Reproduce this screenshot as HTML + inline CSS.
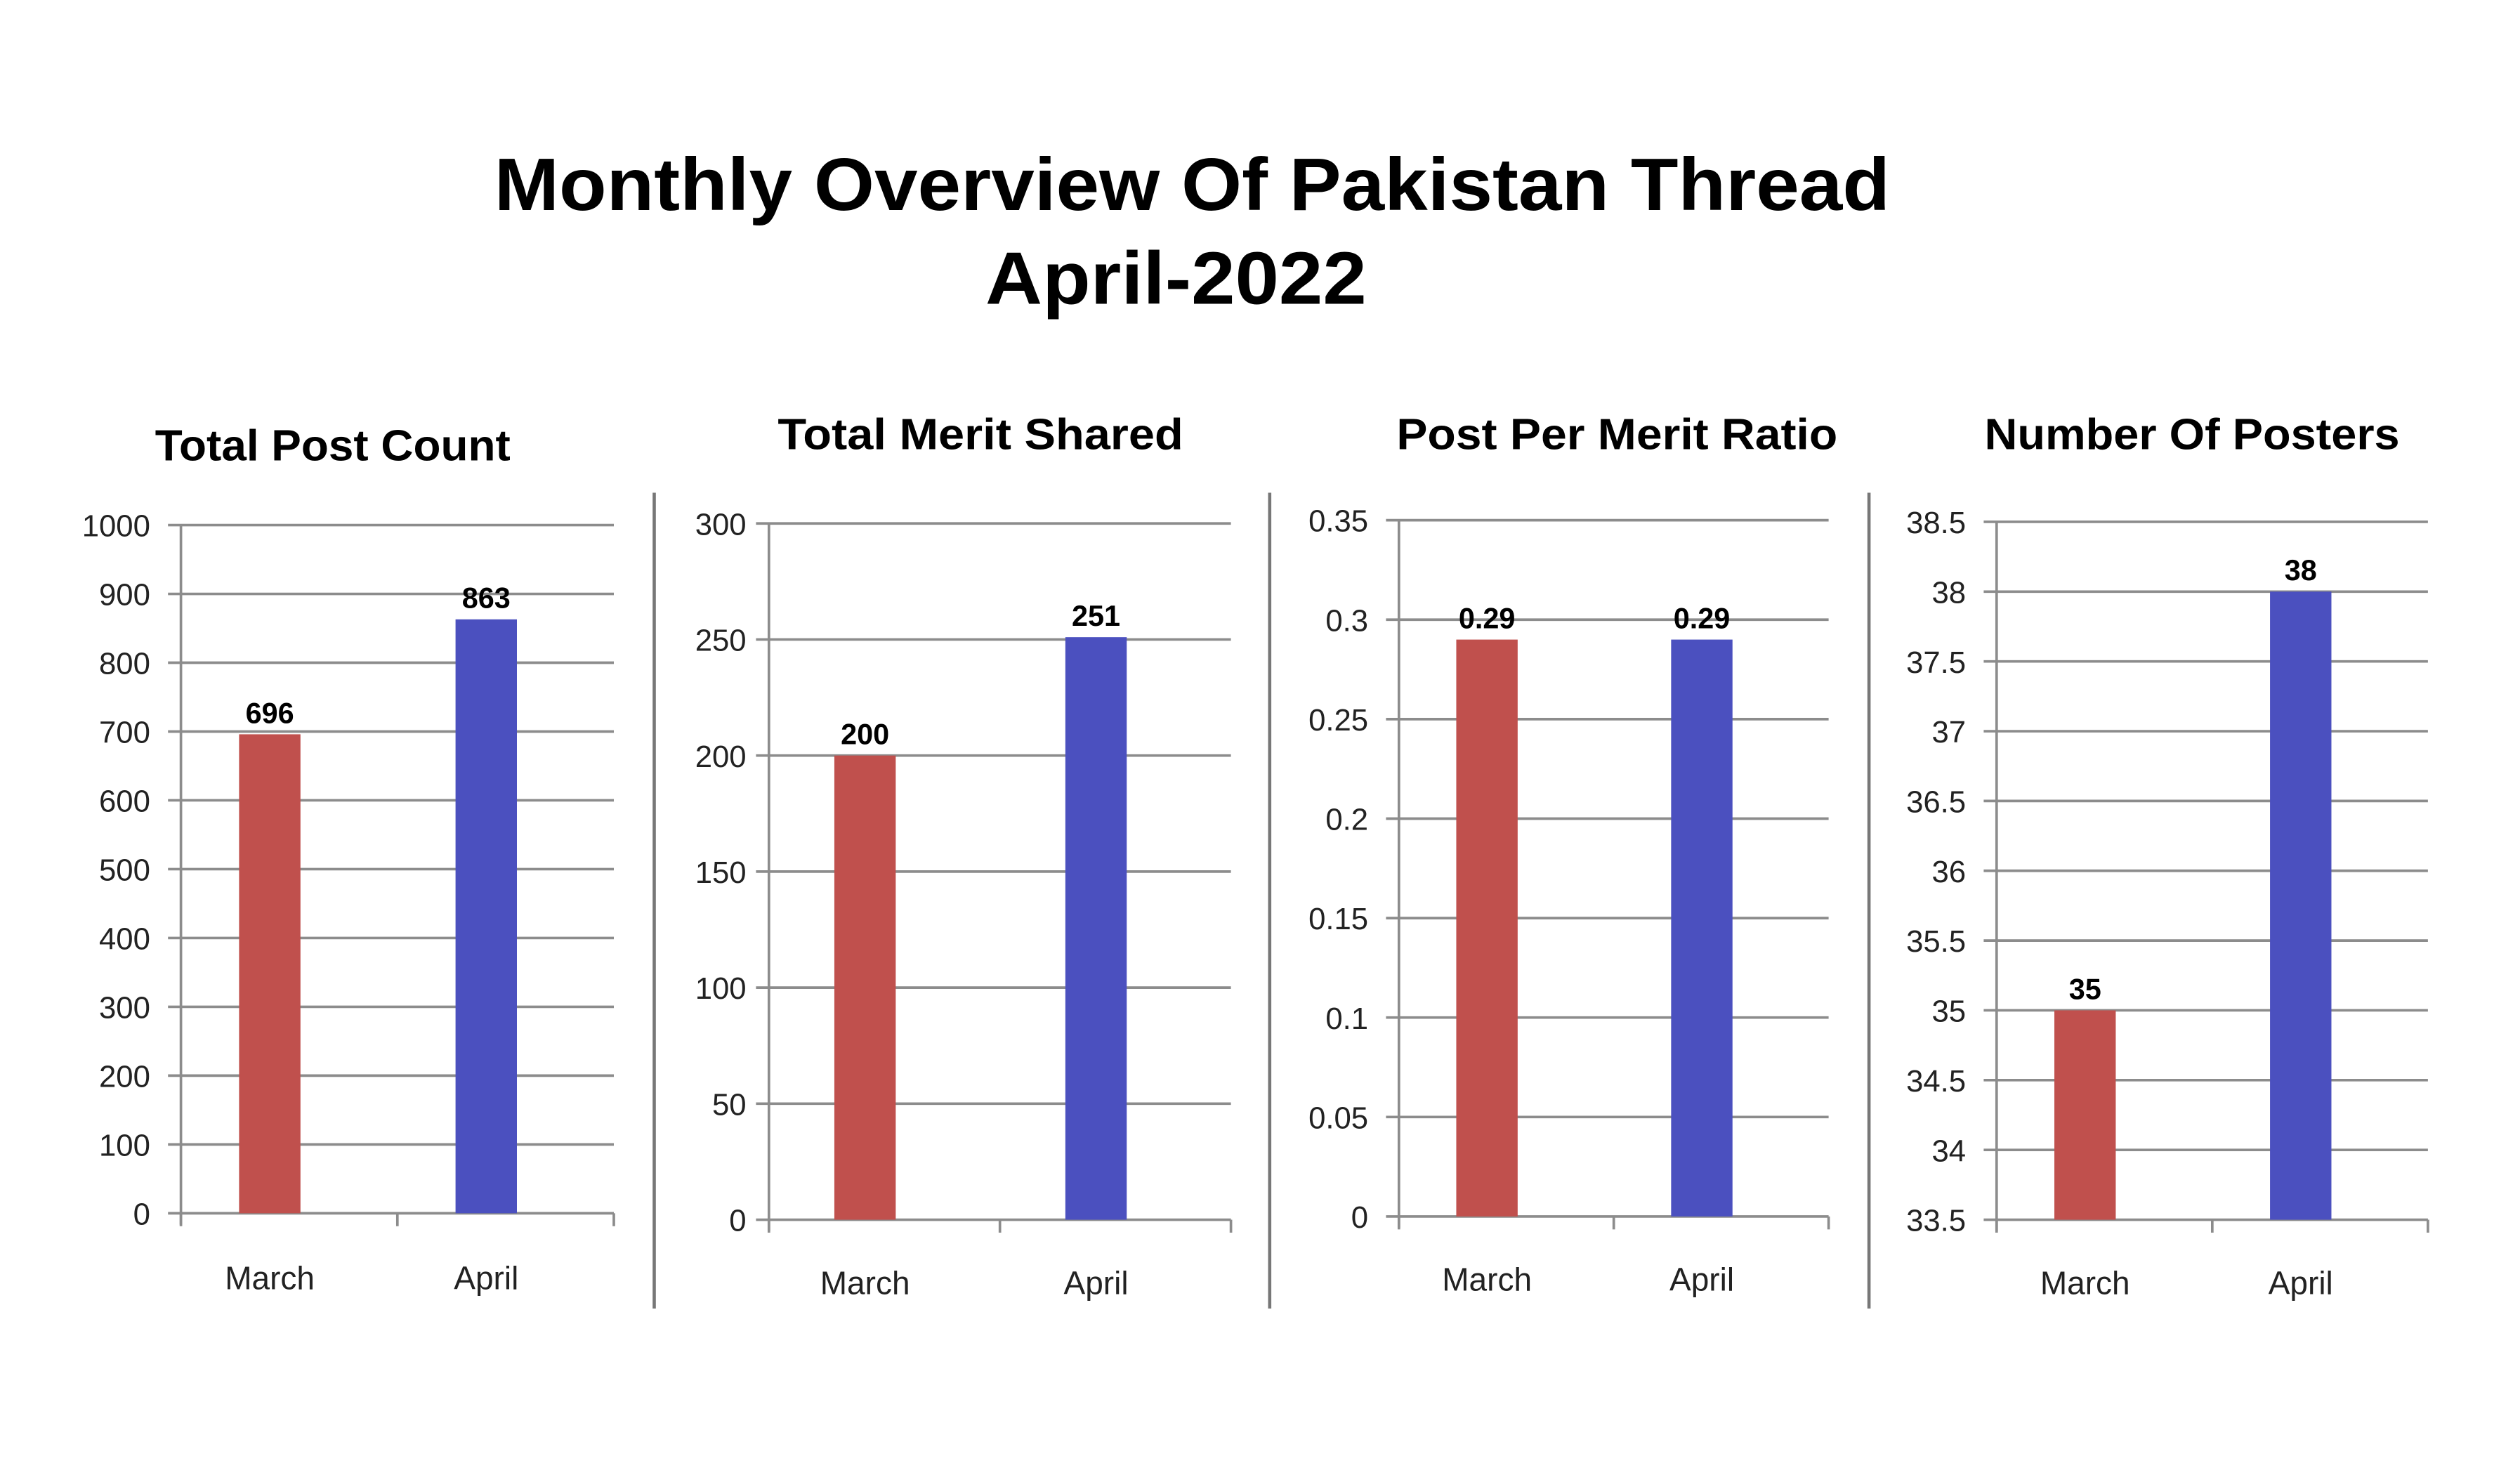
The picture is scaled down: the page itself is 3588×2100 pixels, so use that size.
<!DOCTYPE html>
<html><head><meta charset="utf-8"><style>html,body{margin:0;padding:0;background:#fff}svg{display:block}</style></head>
<body>
<svg id="root" xmlns="http://www.w3.org/2000/svg" width="3588" height="2100" viewBox="0 0 1560 913" font-family="'Liberation Sans', sans-serif">
<rect width="1560" height="913" fill="#fff"/>
<text x="738" y="130" text-anchor="middle" font-weight="bold" font-size="46" textLength="864" lengthAdjust="spacingAndGlyphs">Monthly Overview Of Pakistan Thread</text>
<text x="728" y="188" text-anchor="middle" font-weight="bold" font-size="46" textLength="236" lengthAdjust="spacingAndGlyphs">April-2022</text>
<line x1="405" y1="305" x2="405" y2="810" stroke="#777" stroke-width="2"/>
<line x1="786" y1="305" x2="786" y2="810" stroke="#777" stroke-width="2"/>
<line x1="1157" y1="305" x2="1157" y2="810" stroke="#777" stroke-width="2"/>
<g id="charts"></g>
</svg>
<script>
const categories = ["March", "April"];
const postCountValues = [696, 863];
const postCountTicks = ["0","100","200","300","400","500","600","700","800","900","1000"];
const meritValues = [200, 251];
const meritTicks = ["0","50","100","150","200","250","300"];
const ratioValues = [0.29, 0.29];
const ratioTicks = ["0","0.05","0.1","0.15","0.2","0.25","0.3","0.35"];
const posterValues = [35, 38];
const posterTicks = ["33.5","34","34.5","35","35.5","36","36.5","37","37.5","38","38.5"];
const chartTitles = ["Total Post Count", "Total Merit Shared", "Post Per Merit Ratio", "Number Of Posters"];

const NS = "http://www.w3.org/2000/svg";
const root = document.getElementById("charts");
const colors = ["#C0504D", "#4B50BF"];
function mk(tag, attrs, parent) {
  const e = document.createElementNS(NS, tag);
  for (const k in attrs) e.setAttribute(k, attrs[k]);
  parent.appendChild(e);
  return e;
}
const layouts = [
  {x0:112,x1:380,yTop:325,yBot:751,title:[206,285,220],labelRight:93,catY:798},
  {x0:476,x1:762,yTop:324,yBot:755,title:[607,278,251],labelRight:462,catY:801},
  {x0:866,x1:1132,yTop:322,yBot:753,title:[1001,278,273],labelRight:847,catY:799},
  {x0:1236,x1:1503,yTop:323,yBot:755,title:[1357,278,257],labelRight:1217,catY:801}
];
const datasets = [postCountValues, meritValues, ratioValues, posterValues];
const tickSets = [postCountTicks, meritTicks, ratioTicks, posterTicks];

layouts.forEach((L, ci) => {
  const g = mk("g", {}, root);
  
  
  const ticks = tickSets[ci].map(Number);
  const vmin = ticks[0], vmax = ticks[ticks.length - 1];
  const yScale = v => L.yBot - (v - vmin) / (vmax - vmin) * (L.yBot - L.yTop);
  const band = (L.x1 - L.x0) / categories.length;
  const xCenter = i => L.x0 + band * (i + 0.5);
  const barW = 38;

  const t = mk("text", {x:L.title[0], y:L.title[1], "text-anchor":"middle", "font-weight":"bold", "font-size":"27", textLength:L.title[2], lengthAdjust:"spacingAndGlyphs"}, g);
  
  
  t.textContent = chartTitles[ci];

  tickSets[ci].forEach((lab, k) => {
    const y = yScale(ticks[k]);
    const gl = mk("line", {x1:L.x0 - 8, x2:L.x1, y1:y, y2:y, stroke:"#8c8c8c", "stroke-width":"1.6"}, g);
    
    
    const tl = mk("text", {x:L.labelRight, y:y + 7, "text-anchor":"end", "font-size":"19", fill:"#222"}, g);
    
    
    tl.textContent = lab;
  });
  const ax = mk("line", {x1:L.x0, x2:L.x0, y1:L.yTop, y2:L.yBot + 7, stroke:"#8c8c8c", "stroke-width":"1.6"}, g);
  
  
  for (let i = 0; i <= categories.length; i++) {
    const x = L.x0 + band * i;
    const tk = mk("line", {x1:x, x2:x, y1:L.yBot, y2:L.yBot + 8, stroke:"#8c8c8c", "stroke-width":"1.6"}, g);
    
    
  }
  datasets[ci].forEach((v, i) => {
    const xc = xCenter(i) - 12 * (i === 0 ? 1 : 1);
    const y = yScale(v);
    const b = mk("rect", {x:xc - barW / 2, y:y, width:barW, height:L.yBot - y, fill:colors[i]}, g);
    
    
    const vl = mk("text", {x:xc, y:y - 7, "text-anchor":"middle", "font-weight":"bold", "font-size":"18"}, g);
    
    
    vl.textContent = String(v);
    const cl = mk("text", {x:xc, y:L.catY, "text-anchor":"middle", "font-size":"20", fill:"#222"}, g);
    
    
    cl.textContent = categories[i];
  });
});
</script>
</body></html>
